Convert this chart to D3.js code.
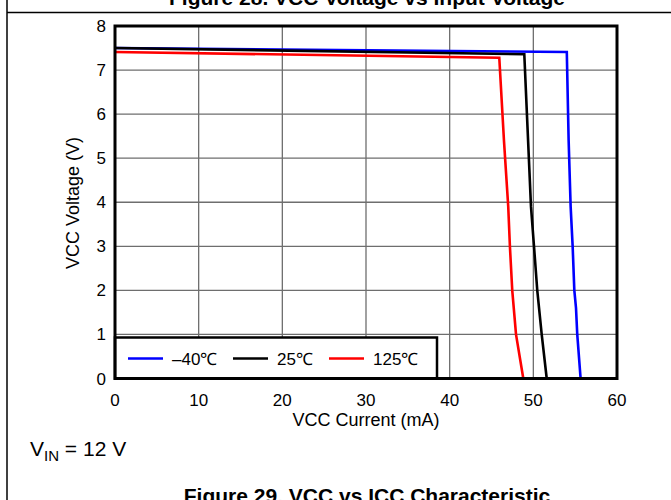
<!DOCTYPE html>
<html>
<head>
    <title>VCC vs ICC Characteristic</title>
    <script src="https://d3js.org/d3.v7.min.js"></script>
    <style>
        body { margin: 0; background: #fff; }
        text { font-family: "Liberation Sans", Arial, sans-serif; fill: #000; }
        .grid line { stroke: #6e6e6e; stroke-width: 1.3; }
        .tick-label { font-size: 17px; }
    </style>
</head>
<body>
    <script>
        // x values in mA, y values in V
        var xTicks = [0, 10, 20, 30, 40, 50, 60];
        var yTicks = [0, 1, 2, 3, 4, 5, 6, 7, 8];

        var seriesNames = ["\u201340\u2103", "25\u2103", "125\u2103"];
        var seriesColors = ["#0000ff", "#000000", "#ff0000"];

        var currentM40 = [0, 54.0, 54.22, 54.46, 54.7, 54.9, 55.1, 55.25, 55.65];
        var voltageM40 = [7.50, 7.41, 5.4, 3.9, 3.0, 2.0, 1.6, 1.0, 0];

        var current25 = [0, 48.92, 49.72, 50.08, 50.47, 51.0, 51.6];
        var voltage25 = [7.50, 7.36, 3.9, 3.0, 2.0, 1.0, 0];

        var current125 = [0, 45.93, 46.49, 47.0, 47.2, 47.48, 47.93, 48.8];
        var voltage125 = [7.41, 7.28, 5.4, 3.9, 3.0, 2.0, 1.0, 0];

        var allCurrent = [currentM40, current25, current125];
        var allVoltage = [voltageM40, voltage25, voltage125];

        var width = 671, height = 500;
        var plot = { left: 115, right: 617, top: 26, bottom: 378.5 };

        var svg = d3.select("body").append("svg")
            .attr("width", width)
            .attr("height", height);

        var x = d3.scaleLinear().domain([0, 60]).range([plot.left, plot.right]);
        var y = d3.scaleLinear().domain([0, 8]).range([plot.bottom, plot.top]);

        // outer frame pieces of the page
        svg.append("line")
            .attr("x1", 7).attr("x2", 7).attr("y1", 0).attr("y2", height)
            .attr("stroke", "#000").attr("stroke-width", 1.5);
        svg.append("line")
            .attr("x1", 7).attr("x2", width).attr("y1", 12.5).attr("y2", 12.5)
            .attr("stroke", "#000").attr("stroke-width", 1.5);

        // title of the previous figure, cut by the top edge
        svg.append("text")
            .attr("x", 367).attr("y", 5)
            .attr("text-anchor", "middle")
            .style("font-size", "21px").style("font-weight", "bold")
            .text("Figure 28. VCC Voltage vs Input Voltage");

        // grid
        var grid = svg.append("g").attr("class", "grid");
        grid.selectAll(".vx")
            .data(xTicks.slice(1, -1))
            .enter().append("line")
            .attr("x1", function(d) { return x(d); })
            .attr("x2", function(d) { return x(d); })
            .attr("y1", plot.top).attr("y2", plot.bottom);
        grid.selectAll(".hy")
            .data(yTicks.slice(1, -1))
            .enter().append("line")
            .attr("x1", plot.left).attr("x2", plot.right)
            .attr("y1", function(d) { return y(d); })
            .attr("y2", function(d) { return y(d); });

        // curves
        var line = d3.line()
            .x(function(d) { return x(d[0]); })
            .y(function(d) { return y(d[1]); });

        allCurrent.forEach(function(cur, i) {
            var pts = cur.map(function(c, j) { return [c, allVoltage[i][j]]; });
            svg.append("path")
                .attr("d", line(pts))
                .attr("fill", "none")
                .attr("stroke", seriesColors[i])
                .attr("stroke-width", 2.6)
                .attr("stroke-linejoin", "miter");
        });

        // legend box
        var lg = svg.append("g");
        lg.append("rect")
            .attr("x", x(0)).attr("y", 337.5)
            .attr("width", 322).attr("height", plot.bottom - 337.5)
            .attr("fill", "#fff").attr("stroke", "#000").attr("stroke-width", 2.5);
        var legendX = [128, 233, 329];
        seriesNames.forEach(function(name, i) {
            lg.append("line")
                .attr("x1", legendX[i]).attr("x2", legendX[i] + 35)
                .attr("y1", 358.5).attr("y2", 358.5)
                .attr("stroke", seriesColors[i]).attr("stroke-width", 2.6);
            lg.append("text")
                .attr("x", legendX[i] + 44).attr("y", 365)
                .style("font-size", "17px")
                .text(name);
        });

        // plot border
        svg.append("rect")
            .attr("x", plot.left).attr("y", plot.top)
            .attr("width", plot.right - plot.left).attr("height", plot.bottom - plot.top)
            .attr("fill", "none").attr("stroke", "#000").attr("stroke-width", 3);

        // tick labels
        svg.selectAll(".xl")
            .data(xTicks)
            .enter().append("text")
            .attr("class", "tick-label")
            .attr("x", function(d) { return x(d); })
            .attr("y", 406)
            .attr("text-anchor", "middle")
            .text(function(d) { return d; });
        svg.selectAll(".yl")
            .data(yTicks)
            .enter().append("text")
            .attr("class", "tick-label")
            .attr("x", 106)
            .attr("y", function(d) { return y(d) + 6; })
            .attr("text-anchor", "end")
            .text(function(d) { return d; });

        // axis titles
        svg.append("text")
            .attr("x", 366).attr("y", 426)
            .attr("text-anchor", "middle")
            .style("font-size", "18px")
            .text("VCC Current (mA)");
        svg.append("text")
            .attr("transform", "translate(79,203) rotate(-90)")
            .attr("text-anchor", "middle")
            .style("font-size", "18px")
            .text("VCC Voltage (V)");

        // condition note
        var note = svg.append("text")
            .attr("x", 30).attr("y", 456)
            .style("font-size", "21px");
        note.append("tspan").text("V");
        note.append("tspan").attr("dy", 5).style("font-size", "15px").text("IN");
        note.append("tspan").attr("dy", -5).text(" = 12 V");

        // figure caption, cut by the bottom edge
        svg.append("text")
            .attr("x", 367).attr("y", 503)
            .attr("text-anchor", "middle")
            .style("font-size", "21px").style("font-weight", "bold")
            .text("Figure 29. VCC vs ICC Characteristic");
    </script>
</body>
</html>
